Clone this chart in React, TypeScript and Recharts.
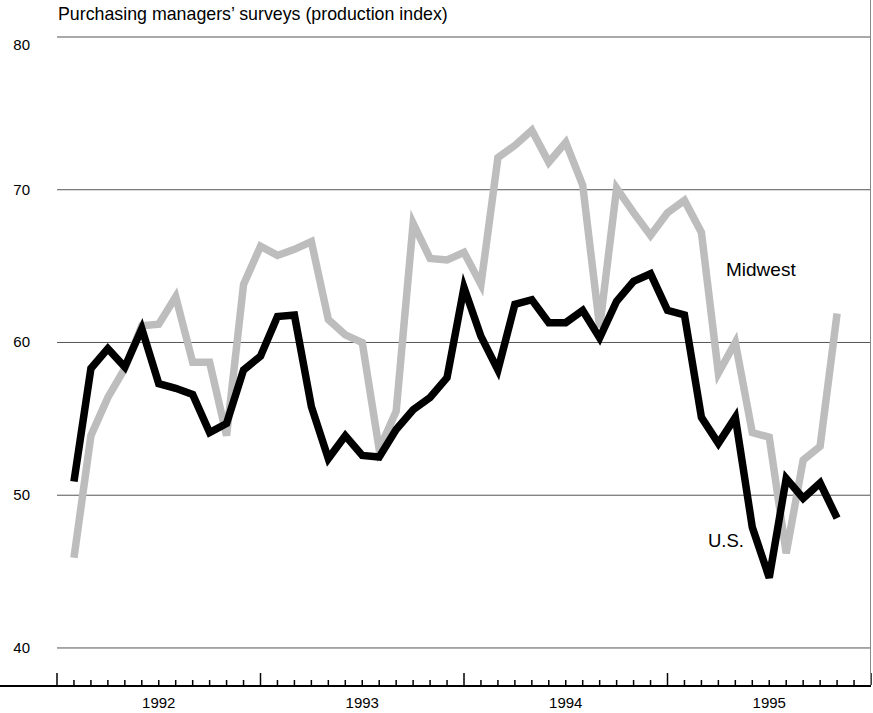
import React from "react";
import { LineChart, Line, XAxis, YAxis, CartesianGrid } from "recharts";

// monthly readings, first point = month 1 on the axis (axis runs 0..48, Jan 1992 - Dec 1995)
const usIndex = [
  50.9, 58.3, 59.6, 58.4, 60.9, 57.3, 57.0, 56.6, 54.1, 54.7, 58.2, 59.1,
  61.7, 61.8, 55.8, 52.4, 53.9, 52.6, 52.5, 54.3, 55.6, 56.4, 57.7, 63.6,
  60.4, 58.2, 62.5, 62.8, 61.3, 61.3, 62.1, 60.3, 62.7, 64.0, 64.5, 62.1,
  61.8, 55.1, 53.4, 55.1, 47.9, 44.6, 51.1, 49.8, 50.8, 48.5,
];

const midwestIndex = [
  45.9, 53.9, 56.4, 58.3, 61.1, 61.2, 63.0, 58.7, 58.7, 53.9, 63.8, 66.3,
  65.7, 66.1, 66.6, 61.5, 60.5, 60.0, 53.0, 55.5, 67.8, 65.5, 65.4, 65.9,
  63.8, 72.1, 72.9, 73.9, 71.8, 73.1, 70.3, 61.0, 70.1, 68.5, 67.0, 68.5,
  69.3, 67.2, 58.0, 60.0, 54.1, 53.8, 46.2, 52.3, 53.2, 61.9,
];

const years = ["1992", "1993", "1994", "1995"];
const yTicks = [40, 50, 60, 70, 80];
const monthTicks = Array.from({ length: 49 }, (_, i) => i);

const data = usIndex.map((v, i) => ({
  m: i + 1,
  us: v,
  midwest: midwestIndex[i],
}));

const font = "'Liberation Sans', Arial, Helvetica, sans-serif";

const MonthTick = (props: any) => {
  const { x, y, payload } = props;
  const v = payload.value;
  const major = v % 12 === 0;
  return (
    <g>
      <line
        x1={x}
        x2={x}
        y1={y - 1}
        y2={y - (major ? 13 : 6)}
        stroke="#000"
        strokeWidth={1.5}
      />
      {v % 12 === 6 && (
        <text x={x} y={y + 22} textAnchor="middle" fontSize={15} fill="#000" fontFamily={font}>
          {years[(v - 6) / 12]}
        </text>
      )}
    </g>
  );
};

const ValueTick = (props: any) => {
  const { y, payload } = props;
  return (
    <text
      x={30}
      y={y + (payload.value === 80 ? 13 : 5)}
      textAnchor="end"
      fontSize={15}
      fill="#000"
      fontFamily={font}
    >
      {payload.value}
    </text>
  );
};

export default function App() {
  return (
    <div style={{ position: "absolute", left: 0, top: 0, width: 873, height: 713, background: "#fff", fontFamily: font }}>
      <LineChart width={873} height={713} data={data} margin={{ top: 37, right: 2, bottom: 0, left: 0 }}>
        <CartesianGrid horizontal vertical={false} stroke="#555" strokeWidth={1} />
        <XAxis
          dataKey="m"
          type="number"
          domain={[0, 48]}
          ticks={monthTicks}
          interval={0}
          height={27}
          tickSize={0}
          tickMargin={0}
          tickLine={false}
          axisLine={{ stroke: "#000", strokeWidth: 2 }}
          tick={<MonthTick />}
        />
        <YAxis
          type="number"
          domain={[37.51, 80]}
          ticks={yTicks}
          allowDataOverflow
          width={57}
          tickSize={0}
          tickMargin={0}
          tickLine={false}
          axisLine={false}
          tick={<ValueTick />}
        />
        <Line
          type="linear"
          dataKey="midwest"
          stroke="#bdbdbd"
          strokeWidth={7.5}
          strokeLinejoin="miter"
          dot={false}
          activeDot={false}
          isAnimationActive={false}
        />
        <Line
          type="linear"
          dataKey="us"
          stroke="#000"
          strokeWidth={7.5}
          strokeLinejoin="miter"
          dot={false}
          activeDot={false}
          isAnimationActive={false}
        />
      </LineChart>
      <svg
        width={873}
        height={713}
        style={{ position: "absolute", left: 0, top: 0, pointerEvents: "none" }}
      >
        <text x={58} y={19.5} fontSize={17.8} fill="#000" fontFamily={font}>
          Purchasing managers’ surveys (production index)
        </text>
        <text x={726} y={276} fontSize={19} fill="#000" fontFamily={font}>
          Midwest
        </text>
        <text x={708} y={546.7} fontSize={18.5} fill="#000" fontFamily={font}>
          U.S.
        </text>
        <line x1={0} x2={58} y1={686} y2={686} stroke="#000" strokeWidth={2} />
        <line x1={870.5} x2={870.5} y1={0} y2={685} stroke="#888" strokeWidth={1} />
      </svg>
    </div>
  );
}
